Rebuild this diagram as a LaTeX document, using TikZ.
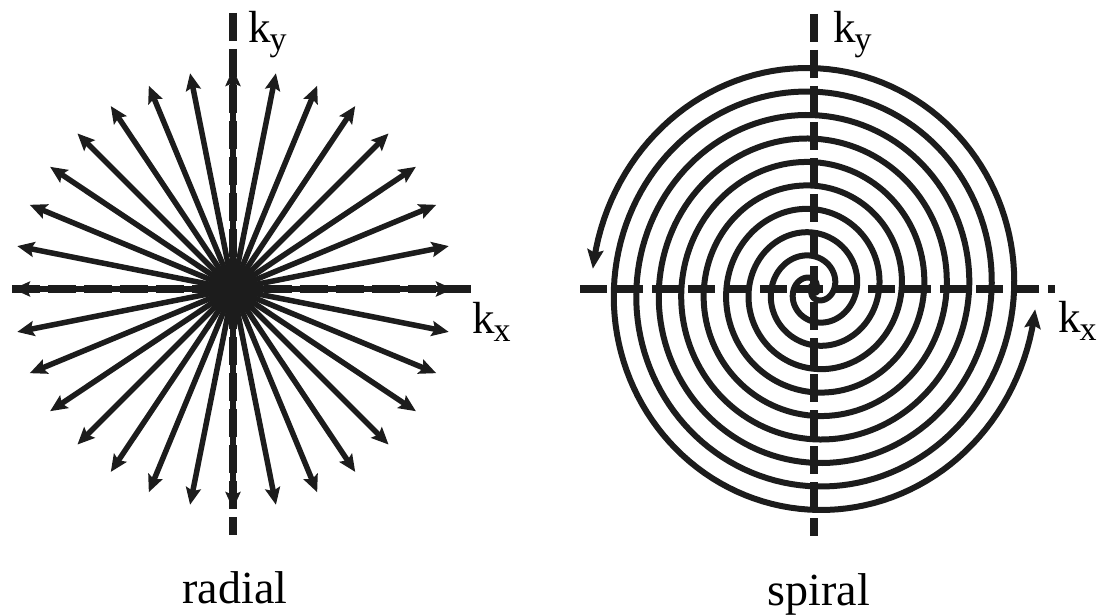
\documentclass[tikz,border=0pt]{standalone}
\usepackage{fontspec}
\setmainfont{Liberation Serif}
\usetikzlibrary{arrows.meta}
\definecolor{ink}{RGB}{28,28,28}
\begin{document}
\begin{tikzpicture}[x=1pt,y=-1pt,
  axisline/.style={ink, line width=8pt, dash pattern=on 28pt off 8pt},
  spoke/.style={ink, line width=5.5pt, -{Stealth[length=17pt,width=15pt,inset=3pt]}},
  arm/.style={ink, line width=6pt, -{Stealth[length=19pt,width=16pt,inset=3pt]}},
  klabel/.style={font=\fontsize{45}{50}\selectfont, inner sep=0pt, anchor=base west},
  title/.style={font=\fontsize{46}{50}\selectfont, inner sep=0pt, anchor=base}]
\useasboundingbox (0,0) rectangle (1101,615);
\newcommand{\ksub}[1]{k\kern-1pt\raisebox{-8pt}{\fontsize{34}{34}\selectfont #1}}
% ---------- radial ----------
\coordinate (R) at (233,289);
\coordinate (Rtop) at (233,13);
\coordinate (Rbot) at (233,535);
\coordinate (Rleft) at (12,289);
\coordinate (Rright) at (471,289);
\draw[axisline] (Rtop) -- (Rbot);
\draw[axisline] (Rleft) -- (Rright);
\foreach \i in {0,...,31}
  \draw[spoke] (R) -- ++({\i*11.25}:220);
\fill[ink] (R) circle (22);
\node[klabel] (rky) at (248,43) {\ksub{y}};
\node[klabel] (rkx) at (472,333) {\ksub{x}};
\node[title] (rt) at (235,603) {radial};
% ---------- spiral ----------
\coordinate (S) at (814,289);
\coordinate (Stop) at (814,14);
\coordinate (Sbot) at (814,536);
\coordinate (Sleft) at (580,289);
\coordinate (Sright) at (1055,289);
\draw[axisline] (Stop) -- (Sbot);
\draw[axisline, dash pattern=on 27pt off 9pt] (Sleft) -- (Sright);
\begin{scope}[shift={(S)}]
  \foreach \k in {0,180}
    \draw[arm] plot[samples=700, domain=0:1776, variable=\t]
      ({0.125*\t*cos(\t+19+\k)}, {-1.045*0.125*\t*sin(\t+19+\k)});
\end{scope}
\fill[ink] (S) circle (7);
\node[klabel] (sky) at (833,43) {\ksub{y}};
\node[klabel] (skx) at (1058,332) {\ksub{x}};
\node[title] (st) at (819,605) {spiral};
\end{tikzpicture}
\end{document}
